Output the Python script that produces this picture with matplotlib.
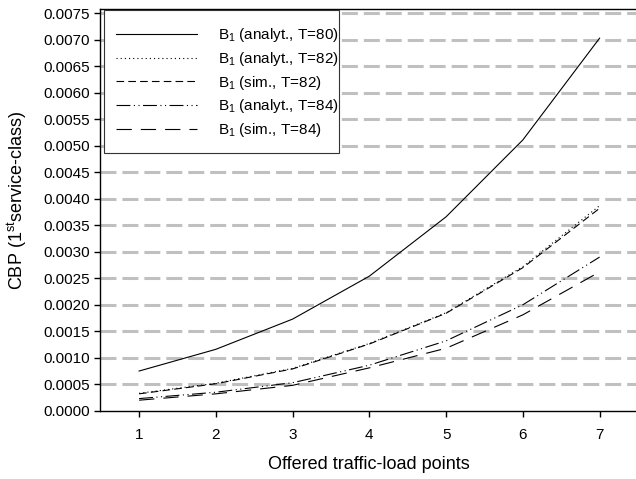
import numpy as np
import matplotlib
matplotlib.use("Agg")
from matplotlib import pyplot as plt
from matplotlib.patches import Rectangle

plt.rcParams['font.family'] = ['Liberation Sans', 'DejaVu Sans']
plt.rcParams['mathtext.fontset'] = 'custom'
plt.rcParams['mathtext.rm'] = 'Liberation Sans'
plt.rcParams['mathtext.it'] = 'Liberation Sans:italic'
plt.rcParams['lines.scale_dashes'] = False

# traffic-load points
load_points = [1, 2, 3, 4, 5, 6, 7]

# CBP of 1st service-class
b1_analyt_t80 = [0.00075, 0.00116, 0.00173, 0.00254, 0.00366, 0.00511, 0.00703]
b1_analyt_t82 = [0.00033, 0.00052, 0.00080, 0.00127, 0.00185, 0.00272, 0.00387]
b1_sim_t82 = [0.00032, 0.00051, 0.00079, 0.00126, 0.00184, 0.00270, 0.00382]
b1_analyt_t84 = [0.00023, 0.00035, 0.00053, 0.00086, 0.00132, 0.00200, 0.00290]
b1_sim_t84 = [0.00020, 0.00032, 0.00048, 0.00081, 0.00118, 0.00181, 0.00262]

labels = ["B$_1$ (analyt., T=80)", "B$_1$ (analyt., T=82)", "B$_1$ (sim., T=82)",
          "B$_1$ (analyt., T=84)", "B$_1$ (sim., T=84)"]
yticks = np.arange(0, 0.00751, 0.0005)

fig = plt.figure(figsize=(6.36, 4.79), dpi=100)
ax = fig.add_axes([0.1572, 0.1424, 0.8459, 0.8388])

# grid (gray, thick dashes)
for y in yticks[1:]:
    ax.axhline(y, color='#c0c0c0', lw=2.2, linestyle=(0, (11.5, 4.3)), zorder=0)

lw = 0.8
ax.plot(load_points, b1_analyt_t80, color='black', lw=lw, linestyle='-', label=labels[0])
ax.plot(load_points, b1_analyt_t82, color='black', lw=lw, linestyle=(0, (0.8, 2.2)), label=labels[1])
ax.plot(load_points, b1_sim_t82, color='black', lw=lw, linestyle=(0, (5.5, 3.0)), label=labels[2])
ax.plot(load_points, b1_analyt_t84, color='black', lw=lw,
        linestyle=(0, (10, 2.5, 0.8, 2.5, 0.8, 2.5)), label=labels[3])
ax.plot(load_points, b1_sim_t84, color='black', lw=lw, linestyle=(0, (11, 6.5)), label=labels[4])

ax.set_xlim(0.49, 7.5)
ax.set_ylim(0, 0.00758)
ax.set_xticks(load_points)
ax.set_yticks(yticks)
ax.set_yticklabels(["%.4f" % v for v in yticks])
ax.tick_params(direction='out', length=4, width=1, labelsize=11, colors='black')
ax.tick_params(axis='x', pad=8.5)
ax.spines['right'].set_visible(False)
for s in ['left', 'bottom', 'top']:
    ax.spines[s].set_linewidth(1.0)

ax.set_xlabel("Offered traffic-load points", fontsize=13, labelpad=10)
ax.set_ylabel(r"CBP (1$^{\mathrm{st}}$service-class)", fontsize=13)
ax.yaxis.set_label_coords(-0.132, 0.525)

# legend box drawn separately (tight right edge like the original)
box = Rectangle((0.0074, 0.6416), 0.437, 0.3559, transform=ax.transAxes,
                facecolor='white', edgecolor='#333333', lw=0.8, zorder=4)
ax.add_patch(box)
leg = ax.legend(loc='upper left', bbox_to_anchor=(0.0297, 0.9568), borderaxespad=0,
                frameon=False, fontsize=11, borderpad=0,
                handlelength=5.3, handletextpad=1.35, labelspacing=0.37)
leg.set_zorder(5)

plt.savefig("out.png", dpi=100)
